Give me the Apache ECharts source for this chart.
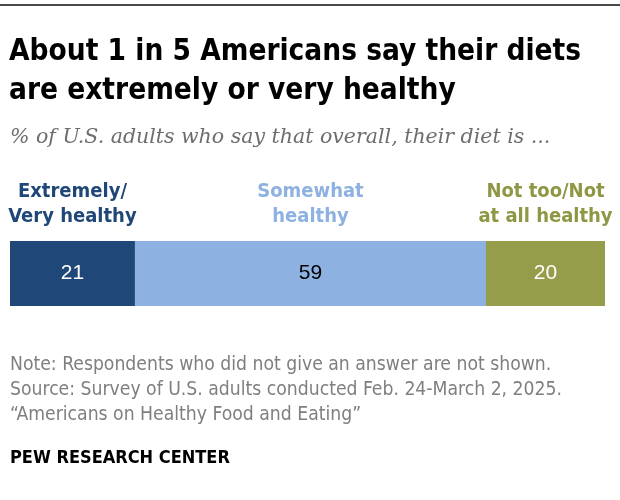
<!DOCTYPE html>
<html lang="en">

<head>
    <meta charset="UTF-8">
    <title>Healthy diets</title>
    <script src="https://cdn.jsdelivr.net/npm/echarts@6.0.0/dist/echarts.min.js"></script>
    <style>
        html, body { margin: 0; padding: 0; background: #fff; }
    </style>
</head>

<body>
    <div id="container" style="width: 620px; height: 500px"></div>
    <script>
        // data
        var categories = ['Total'];
        var segmentNames = ['Extremely/\nVery healthy', 'Somewhat\nhealthy', 'Not too/Not\nat all healthy'];
        var segmentValues = [21, 59, 20];

        var barColors = ['#1f4778', '#8db2e1', '#959c4a'];
        var nameColors = ['#1f4778', '#8db2e1', '#8f9744'];
        var valueColors = ['#ffffff', '#000000', '#ffffff'];

        var condensed = '"Liberation Sans Narrow", "DejaVu Sans Condensed", "Roboto Condensed", sans-serif';

        var series = [];
        // bars with the numbers inside
        for (let i = 0; i < segmentValues.length; i++) {
            series.push({
                type: 'bar',
                stack: 'values',
                barWidth: 65,
                data: [segmentValues[i]],
                itemStyle: { color: barColors[i] },
                label: {
                    show: true,
                    position: 'inside',
                    color: valueColors[i],
                    fontFamily: '"Liberation Sans", Arial, sans-serif',
                    fontSize: 21
                },
                silent: true
            });
        }
        // same values again, invisible, just to carry the names above each segment
        for (let i = 0; i < segmentValues.length; i++) {
            series.push({
                type: 'bar',
                stack: 'names',
                barWidth: 65,
                barGap: '-100%',
                data: [segmentValues[i]],
                itemStyle: { color: 'rgba(0,0,0,0)' },
                label: {
                    show: true,
                    position: 'top',
                    distance: 12,
                    formatter: segmentNames[i],
                    color: nameColors[i],
                    fontFamily: condensed,
                    fontWeight: 'bold',
                    fontSize: 20,
                    lineHeight: 25,
                    align: 'center'
                },
                silent: true
            });
        }

        var myChart = echarts.init(document.getElementById('container'));
        myChart.setOption({
            animation: false,
            title: [
                {
                    text: 'About 1 in 5 Americans say their diets\nare extremely or very healthy',
                    left: 4,
                    top: 28,
                    textStyle: {
                        fontFamily: condensed,
                        fontWeight: 'bold',
                        fontSize: 29.5,
                        lineHeight: 39,
                        color: '#000'
                    }
                },
                {
                    text: '% of U.S. adults who say that overall, their diet is ...',
                    left: 5,
                    top: 120,
                    textStyle: {
                        fontFamily: '"DejaVu Serif", "Liberation Serif", serif',
                        fontStyle: 'italic',
                        fontWeight: 'normal',
                        fontSize: 20.5,
                        lineHeight: 26,
                        color: '#6d6d6d'
                    }
                },
                {
                    text: 'Note: Respondents who did not give an answer are not shown.\nSource: Survey of U.S. adults conducted Feb. 24-March 2, 2025.\n\u201cAmericans on Healthy Food and Eating\u201d',
                    left: 5,
                    top: 348,
                    textStyle: {
                        fontFamily: condensed,
                        fontWeight: 'normal',
                        fontSize: 19.2,
                        lineHeight: 25,
                        color: '#7f7f7f'
                    }
                },
                {
                    text: 'PEW RESEARCH CENTER',
                    left: 5,
                    top: 441,
                    textStyle: {
                        fontFamily: condensed,
                        fontWeight: 'bold',
                        fontSize: 18,
                        lineHeight: 24,
                        color: '#000'
                    }
                }
            ],
            graphic: [
                {
                    type: 'rect',
                    shape: { x: 0, y: 4, width: 620, height: 2 },
                    style: { fill: '#4a4a4a' },
                    silent: true
                }
            ],
            grid: { left: 10, right: 15, top: 241, height: 65 },
            xAxis: { type: 'value', min: 0, max: 100, show: false },
            yAxis: { type: 'category', data: categories, show: false },
            series: series
        });
    </script>
</body>

</html>
